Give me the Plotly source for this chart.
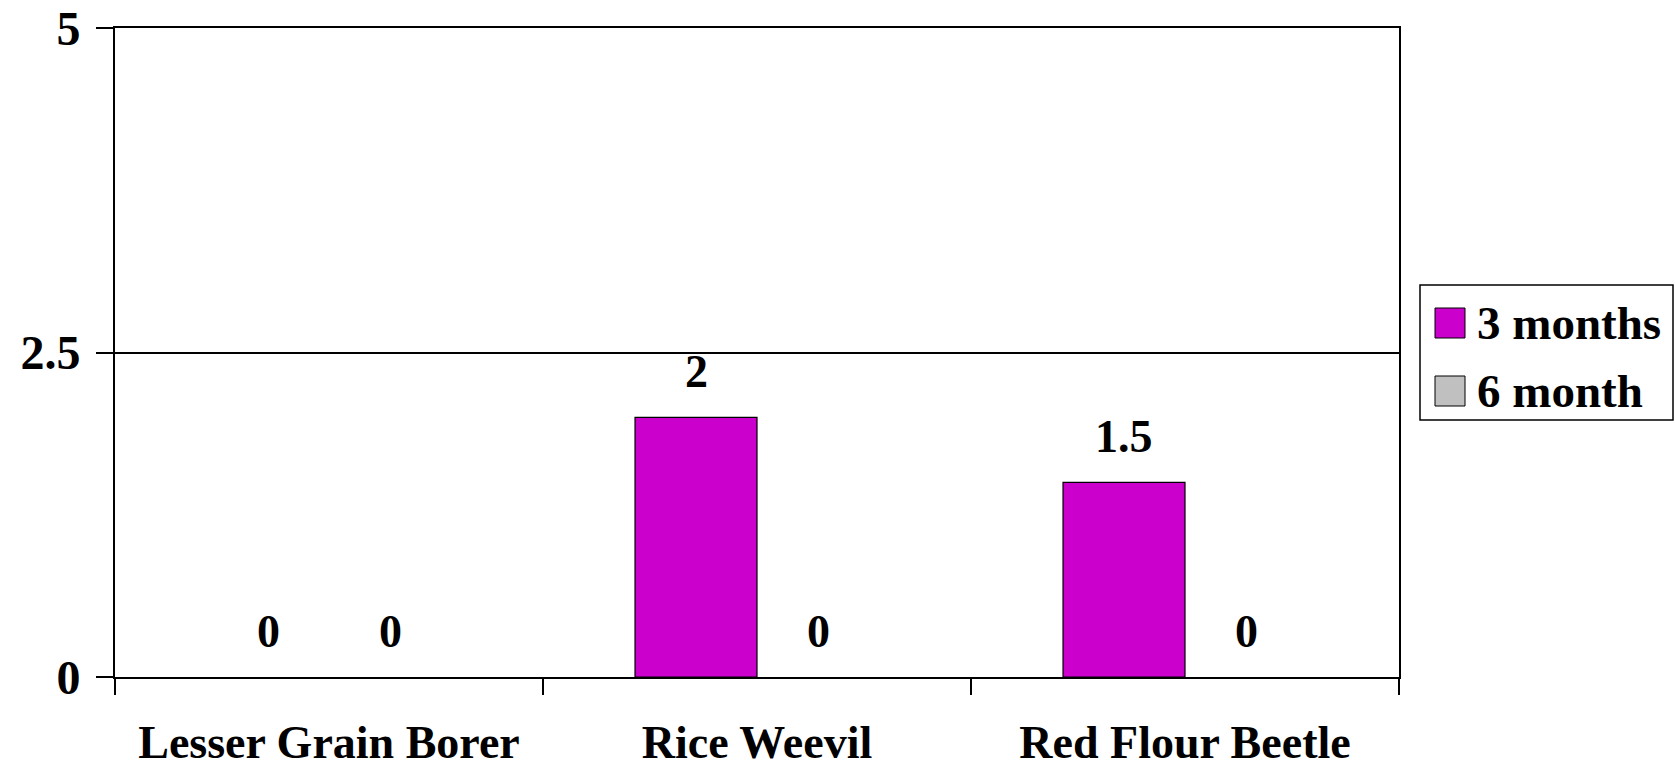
import plotly.graph_objects as go

# Insect species tested and mean counts per storage period
categories = ["Lesser Grain Borer", "Rice Weevil", "Red Flour Beetle"]
series_names = ["3 months", "6 month"]
values_3_months = [0, 2, 1.5]
values_6_month = [0, 0, 0]
series_values = [values_3_months, values_6_month]
series_colors = ["#CC00CC", "#C0C0C0"]
y_ticks = [0, 2.5, 5]
y_tick_labels = ["0", "2.5", "5"]

FONT = "Times New Roman, Liberation Serif, serif"

fig = go.Figure()
for name, vals, col in zip(series_names, series_values, series_colors):
    fig.add_trace(go.Bar(
        x=categories, y=vals, name=name,
        marker=dict(color=col,
                    line=dict(color="black",
                              width=[1.2 if v > 0 else 0 for v in vals])),
        showlegend=False,
    ))

# value labels above each bar
annotations = []
n = len(series_names)
for si, vals in enumerate(series_values):
    for ci, v in enumerate(vals):
        annotations.append(dict(
            x=ci, y=v, xref="x", yref="y",
            text=f"{v:g}", showarrow=False,
            xshift=(si - (n - 1) / 2) * 122,
            yshift=46, yanchor="middle",
            font=dict(family=FONT, size=46, color="black", weight="bold"),
        ))

# legend box drawn in paper space
shapes = [dict(type="rect", xref="paper", yref="paper",
               x0=(1420 - 115) / 1284, x1=(1673 - 115) / 1284,
               y0=(677 - 420) / 649, y1=(677 - 285) / 649,
               line=dict(color="black", width=1.5), fillcolor="white")]
legend_rows_y = [323, 391]
for name, col, yc in zip(series_names, series_colors, legend_rows_y):
    yc_paper = (677 - yc) / 649
    half = 15 / 649
    shapes.append(dict(type="rect", xref="paper", yref="paper",
                       x0=(1435 - 115) / 1284, x1=(1465 - 115) / 1284,
                       y0=yc_paper - half, y1=yc_paper + half,
                       line=dict(color="black", width=1), fillcolor=col))
    annotations.append(dict(
        x=(1475 - 115) / 1284, y=yc_paper, xref="paper", yref="paper",
        text=name, showarrow=False, xanchor="left", yanchor="middle",
        font=dict(family=FONT, size=47, color="black", weight="bold"),
    ))

fig.update_layout(
    width=1675, height=770,
    margin=dict(l=115, r=276, t=28, b=93, autoexpand=False),
    paper_bgcolor="white", plot_bgcolor="white",
    barmode="group", bargap=0.43, bargroupgap=0,
    font=dict(family=FONT, size=46, color="black", weight="bold"),
    annotations=annotations, shapes=shapes,
)
fig.update_xaxes(
    type="category", tickson="boundaries", automargin=False,
    ticks="outside", ticklen=16, tickwidth=2, tickcolor="black",
    showline=True, linecolor="black", linewidth=2, mirror=True,
    showgrid=False, ticklabelstandoff=24,
    tickfont=dict(family=FONT, size=46, color="black", weight="bold"),
)
fig.update_yaxes(
    range=[0, 5], tickvals=y_ticks, ticktext=y_tick_labels, automargin=False,
    ticks="outside", ticklen=17, tickwidth=2, tickcolor="black",
    showline=True, linecolor="black", linewidth=2, mirror=True,
    showgrid=True, gridcolor="black", gridwidth=1.5, zeroline=False,
    ticklabelstandoff=6,
    tickfont=dict(family=FONT, size=48, color="black", weight="bold"),
)

fig.write_html("out.html")
